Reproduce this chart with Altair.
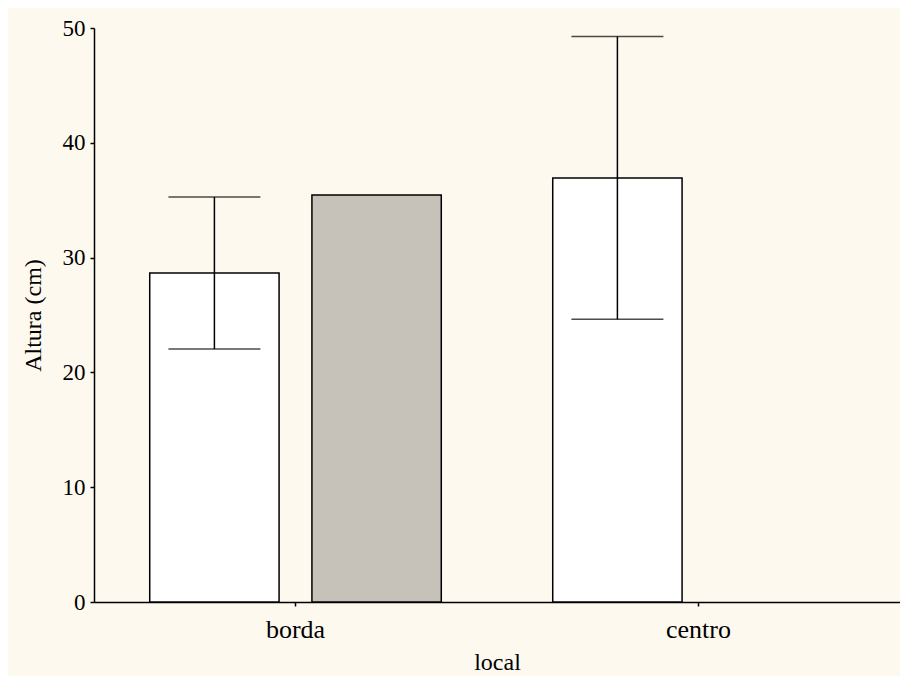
import altair as alt
import pandas as pd

# Data
locais = ["borda", "borda", "centro"]
series = ["s1", "s2", "s1"]
medias = [28.65, 35.45, 36.93]
erro_inf = [22.03, None, 24.63]
erro_sup = [35.28, None, 49.25]

y_ticks = [0, 10, 20, 30, 40, 50]

df = pd.DataFrame({
    "local": locais,
    "serie": series,
    "altura": medias,
    "lo": erro_inf,
    "hi": erro_sup,
})
df_err = df.dropna(subset=["lo", "hi"])

FONT = "Liberation Serif"

x_enc = alt.X(
    "local:N",
    scale=alt.Scale(paddingInner=0, paddingOuter=0),
    axis=alt.Axis(
        labelAngle=0, labelFontSize=26, labelColor="black",
        tickSize=4, tickWidth=1.5, tickColor="black",
        domainColor="black", domainWidth=1.5,
        labelPadding=10, titleFontSize=24, titleFontWeight="normal",
        titleColor="black", titlePadding=8,
    ),
    title="local",
)
xoff_enc = alt.XOffset(
    "serie:N",
    scale=alt.Scale(domain=["s1", "s2"], paddingInner=0.2025, paddingOuter=0.3436),
)
y_scale = alt.Scale(domain=[0, 50], nice=False)

bars = alt.Chart(df).mark_bar(stroke="black", strokeWidth=1.5, opacity=1).encode(
    x=x_enc,
    xOffset=xoff_enc,
    y=alt.Y(
        "altura:Q",
        scale=y_scale,
        axis=alt.Axis(
            values=y_ticks, grid=False, tickSize=4, tickWidth=1.5,
            tickColor="black", domainColor="black", domainWidth=1.5,
            labelFontSize=23, labelColor="black", labelPadding=5,
            titleFontSize=24, titleFontWeight="normal", titleColor="black",
            titlePadding=17,
        ),
        title="Altura (cm)",
    ),
    fill=alt.Fill(
        "serie:N",
        scale=alt.Scale(domain=["s1", "s2"], range=["#ffffff", "#c6c2b9"]),
        legend=None,
    ),
)

rules = alt.Chart(df_err).mark_rule(color="black", strokeWidth=1.5).encode(
    x=alt.X("local:N"),
    xOffset=alt.XOffset("serie:N"),
    y=alt.Y("lo:Q", scale=y_scale),
    y2="hi:Q",
)

caps_hi = alt.Chart(df_err).mark_tick(color="black", thickness=1.5, size=92).encode(
    x=alt.X("local:N"),
    xOffset=alt.XOffset("serie:N"),
    y=alt.Y("hi:Q", scale=y_scale),
)
caps_lo = alt.Chart(df_err).mark_tick(color="black", thickness=1.5, size=92).encode(
    x=alt.X("local:N"),
    xOffset=alt.XOffset("serie:N"),
    y=alt.Y("lo:Q", scale=y_scale),
)

chart = alt.layer(bars, rules, caps_hi, caps_lo).properties(
    width=806,
    height=574,
    autosize=alt.AutoSizeParams(type="none"),
    padding={"left": 86, "top": 20, "right": 0, "bottom": 74},
    background="#fdf9ef",
).configure(font=FONT).configure_view(strokeWidth=0, stroke=None)

chart.save("out.html", embed_options={"renderer": "svg", "actions": False})
